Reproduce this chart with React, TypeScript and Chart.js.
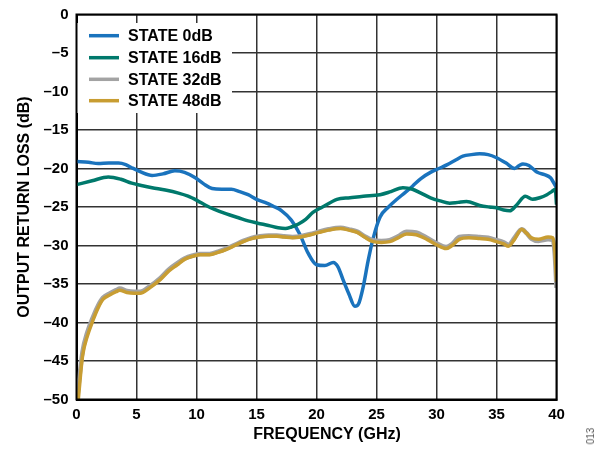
import React, { useEffect, useRef } from "react";
import { Chart, registerables } from "chart.js";

Chart.register(...registerables);

const seriesNames = ["STATE 0dB", "STATE 16dB", "STATE 32dB", "STATE 48dB"];
const seriesColors = ["#1a73bd", "#00796c", "#a3a3a3", "#c89d32"];

const xAxisTitle = "FREQUENCY (GHz)";
const yAxisTitle = "OUTPUT RETURN LOSS (dB)";
const figureNumber = "013";

const state0Freq = [0, 1.0, 1.8, 2.7, 3.5, 4.1, 4.6, 5.3, 6.3, 7.2, 8.2, 9.0, 9.9, 10.6, 11.3, 12.1, 12.9, 13.6, 14.3, 15.0, 15.7, 16.4, 17.1, 17.9, 18.6, 19.3, 20.0, 20.7, 21.4, 21.8, 22.2, 22.7, 23.2, 23.5, 23.9, 24.3, 24.7, 25.3, 26.0, 26.7, 27.4, 28.0, 28.7, 29.5, 30.2, 30.9, 31.6, 32.2, 32.9, 33.6, 34.3, 35.0, 35.8, 36.5, 36.9, 37.2, 37.7, 38.4, 39.0, 39.5, 40];
const state0Loss = [-19.1, -19.2, -19.35, -19.3, -19.3, -19.5, -19.9, -20.4, -20.9, -20.7, -20.3, -20.5, -21.2, -22.0, -22.6, -22.7, -22.7, -23.0, -23.4, -24.0, -24.4, -24.9, -25.5, -26.7, -28.5, -31.0, -32.5, -32.6, -32.2, -32.8, -34.4, -36.3, -37.9, -37.6, -35.3, -32.0, -29.2, -26.3, -25.0, -24.0, -23.1, -22.3, -21.3, -20.5, -20.0, -19.5, -18.9, -18.4, -18.2, -18.1, -18.2, -18.6, -19.3, -20.0, -19.6, -19.4, -19.6, -20.5, -20.8, -21.2, -22.5];

const state16Freq = [0, 1.3, 2.65, 3.7, 4.6, 5.4, 6.3, 7.4, 8.5, 9.3, 10.1, 10.8, 11.5, 12.5, 13.5, 14.3, 15.1, 16.0, 16.8, 17.4, 17.9, 18.5, 19.1, 19.7, 20.5, 21.7, 22.8, 23.9, 25.3, 26.2, 27.2, 28.0, 28.7, 29.5, 30.3, 31.1, 31.8, 32.5, 33.6, 34.4, 35.0, 35.6, 36.1, 36.7, 37.4, 38.0, 38.6, 39.2, 39.6, 39.9, 40];
const state16Loss = [-22.1, -21.6, -21.1, -21.4, -21.9, -22.2, -22.5, -22.8, -23.2, -23.6, -24.2, -24.8, -25.3, -25.9, -26.4, -26.8, -27.1, -27.4, -27.7, -27.8, -27.6, -27.2, -26.6, -25.7, -25.0, -24.0, -23.8, -23.6, -23.4, -23.0, -22.5, -22.7, -23.2, -23.8, -24.2, -24.5, -24.4, -24.3, -24.8, -25.0, -25.1, -25.4, -25.5, -24.7, -23.6, -24.0, -23.8, -23.4, -23.0, -22.7, -24.7];

const state32Freq = [0.05, 0.5, 0.9, 1.4, 1.8, 2.2, 2.8, 3.3, 3.6, 4.2, 4.8, 5.3, 6.1, 7.0, 7.7, 8.4, 9.0, 9.7, 10.3, 11.1, 11.8, 12.5, 13.2, 13.9, 14.6, 15.3, 16.0, 16.7, 17.3, 18.0, 18.7, 19.5, 20.2, 21.0, 22.0, 22.7, 23.4, 24.0, 24.7, 25.4, 26.1, 26.8, 27.5, 28.3, 29.2, 30.0, 30.8, 31.3, 31.9, 32.7, 33.6, 34.3, 35.0, 35.6, 36.0, 36.5, 37.1, 37.5, 37.9, 38.5, 39.3, 39.7, 39.85, 40];
const state32Loss = [-50, -43.8, -41.3, -39.2, -37.8, -36.8, -36.2, -35.8, -35.6, -35.9, -36.0, -36.0, -35.3, -34.2, -33.1, -32.3, -31.7, -31.3, -31.1, -31.1, -30.8, -30.4, -29.9, -29.4, -29.0, -28.8, -28.7, -28.7, -28.8, -28.9, -28.8, -28.5, -28.2, -27.9, -27.7, -27.9, -28.2, -28.8, -29.3, -29.4, -29.3, -28.8, -28.2, -28.3, -29.0, -29.7, -30.2, -29.8, -28.9, -28.8, -28.9, -29.0, -29.3, -29.6, -29.9, -29.0, -27.9, -28.4, -29.1, -29.4, -29.2, -29.3, -31.0, -35.5];

const state48Freq = [0.15, 0.5, 0.9, 1.4, 1.8, 2.2, 2.8, 3.3, 3.6, 4.2, 4.8, 5.3, 6.1, 7.0, 7.7, 8.4, 9.0, 9.7, 10.3, 11.1, 11.8, 12.5, 13.2, 13.9, 14.6, 15.3, 16.0, 16.7, 17.3, 18.0, 18.7, 19.5, 20.2, 21.0, 22.0, 22.7, 23.4, 24.0, 24.7, 25.4, 26.1, 26.8, 27.5, 28.3, 29.2, 30.0, 30.8, 31.3, 31.9, 32.7, 33.6, 34.3, 35.0, 35.6, 36.0, 36.5, 37.1, 37.5, 37.9, 38.5, 39.3, 39.7, 39.85, 40];
const state48Loss = [-50, -44.4, -41.8, -39.6, -38.1, -37.0, -36.4, -36.0, -35.8, -36.1, -36.2, -36.2, -35.5, -34.4, -33.3, -32.5, -31.8, -31.4, -31.2, -31.2, -30.9, -30.5, -30.0, -29.5, -29.1, -28.9, -28.8, -28.8, -28.9, -29.0, -28.9, -28.6, -28.3, -28.0, -27.8, -28.0, -28.3, -28.9, -29.5, -29.6, -29.5, -29.0, -28.5, -28.6, -29.2, -29.9, -30.4, -30.0, -29.2, -29.0, -29.1, -29.2, -29.5, -29.8, -30.1, -29.2, -27.9, -28.4, -29.0, -29.2, -28.9, -29.0, -30.5, -34.7];

const FONT = "Arial, 'Liberation Sans', Helvetica, sans-serif";

function zip(xs: number[], ys: number[]) {
  return xs.map((x, i) => ({ x, y: ys[i] }));
}

const frameAndLegend = {
  id: "frameAndLegend",
  afterDraw(chart: any) {
    const { ctx, chartArea } = chart;
    const { left, top, right, bottom } = chartArea;
    ctx.save();
    // frame
    ctx.strokeStyle = "#000";
    ctx.lineWidth = 2;
    ctx.strokeRect(left, top, right - left, bottom - top);
    // x-axis title (set slightly right of the plot centre, as in the original)
    ctx.fillStyle = "#000";
    ctx.font = `bold 16px ${FONT}`;
    ctx.textAlign = "center";
    ctx.textBaseline = "middle";
    ctx.fillText(xAxisTitle, (left + right) / 2 + 10.5, 435);
    // legend box
    ctx.fillStyle = "#fff";
    ctx.fillRect(left + 1, 23, 232 - left - 1, 90);
    const rowY = [35.7, 57.7, 79.3, 100.7];
    chart.data.datasets.forEach((ds: any) => {
      const y = rowY[seriesNames.indexOf(ds.label)];
      ctx.strokeStyle = ds.borderColor;
      ctx.lineWidth = 3.5;
      ctx.beginPath();
      ctx.moveTo(89, y);
      ctx.lineTo(119, y);
      ctx.stroke();
      ctx.fillStyle = "#000";
      ctx.font = `bold 16px ${FONT}`;
      ctx.textBaseline = "middle";
      ctx.textAlign = "left";
      ctx.fillText(ds.label, 128, y + 1);
    });
    ctx.restore();
  },
};

export default function App() {
  const ref = useRef<HTMLCanvasElement | null>(null);
  useEffect(() => {
    if (!ref.current) return;
    const freqs = [state0Freq, state16Freq, state32Freq, state48Freq];
    const losses = [state0Loss, state16Loss, state32Loss, state48Loss];
    const orders = [3, 2, 1, 0];
    const widths = [3.5, 3.5, 4.5, 3.5];
    const chart = new Chart(ref.current, {
      type: "line",
      data: {
        datasets: seriesNames.map((name, i) => ({
          label: name,
          data: zip(freqs[i], losses[i]),
          borderColor: seriesColors[i],
          backgroundColor: seriesColors[i],
          borderWidth: widths[i],
          pointRadius: 0,
          cubicInterpolationMode: "monotone" as const,
          order: orders[i],
          fill: false,
        })),
      },
      options: {
        animation: false,
        responsive: false,
        maintainAspectRatio: false,
        layout: { padding: { left: 0, top: 14.5, right: 40.5, bottom: 0 } },
        plugins: { legend: { display: false }, tooltip: { enabled: false } },
        scales: {
          x: {
            type: "linear",
            min: 0,
            max: 40,
            ticks: {
              stepSize: 5,
              color: "#000",
              padding: 6,
              maxRotation: 0,
              font: { family: FONT, size: 15, weight: "bold" },
            },
            grid: { color: "#333", lineWidth: 1.5, drawTicks: false },
            border: { color: "#000", width: 2 },
            title: { display: false },
            afterFit(scale: any) {
              scale.height = 49.5;
              scale.paddingLeft = 0;
              scale.paddingRight = 0;
            },
          },
          y: {
            type: "linear",
            min: -50,
            max: 0,
            ticks: {
              stepSize: 5,
              color: "#000",
              padding: 8,
              font: { family: FONT, size: 15, weight: "bold" },
              callback: (v: any) => (Number(v) < 0 ? "\u2013" + Math.abs(Number(v)) : String(v)),
            },
            grid: { color: "#333", lineWidth: 1.5, drawTicks: false },
            border: { color: "#000", width: 2 },
            title: {
              display: true,
              text: yAxisTitle,
              color: "#000",
              font: { family: FONT, size: 16, weight: "bold" },
              padding: { top: 14.5, bottom: 0 },
            },
            afterFit(scale: any) {
              scale.width = 76.5;
              scale.paddingTop = 0;
              scale.paddingBottom = 0;
            },
          },
        },
      },
      plugins: [frameAndLegend],
    });
    return () => chart.destroy();
  }, []);

  return (
    <div style={{ position: "fixed", left: 0, top: 0, width: 597, height: 449, background: "#fff" }}>
      <canvas ref={ref} width={597} height={449} style={{ display: "block", width: 597, height: 449 }} />
      <div
        style={{
          position: "absolute",
          left: 591,
          top: 436,
          transform: "translate(-50%, -50%) rotate(-90deg)",
          fontFamily: FONT,
          fontSize: 10,
          color: "#555",
          whiteSpace: "nowrap",
          lineHeight: 1,
        }}
      >
        {figureNumber}
      </div>
    </div>
  );
}
